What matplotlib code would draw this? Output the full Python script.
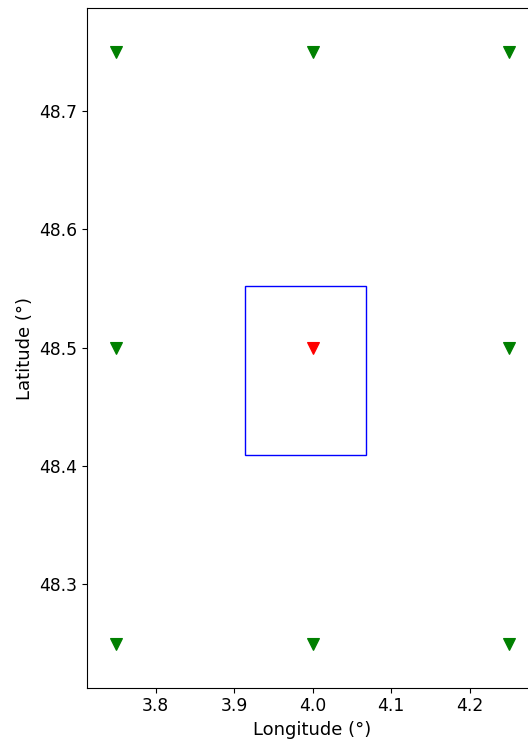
import matplotlib
matplotlib.use("Agg")
import matplotlib.pyplot as plt
from matplotlib.patches import Rectangle

grid_lon = [3.75, 4.0, 4.25, 3.75, 4.25, 3.75, 4.0, 4.25]
grid_lat = [48.75, 48.75, 48.75, 48.5, 48.5, 48.25, 48.25, 48.25]
center_lon = [4.0]
center_lat = [48.5]
box_lon = [3.914, 4.068]
box_lat = [48.409, 48.552]
xticks = [3.8, 3.9, 4.0, 4.1, 4.2]
yticks = [48.3, 48.4, 48.5, 48.6, 48.7]

W, H = 528, 740
fig = plt.figure(figsize=(W/100, H/100), dpi=100)
left, right, top, bottom = 87.3, 537.9, 8.3, 687.7
ax = fig.add_axes([left/W, 1-bottom/H, (right-left)/W, (bottom-top)/H])

ax.plot(grid_lon, grid_lat, 'v', color='green', markersize=9, markeredgewidth=0.8, linestyle='none')
ax.plot(center_lon, center_lat, 'v', color='red', markersize=9, markeredgewidth=0.8, linestyle='none')
ax.add_patch(Rectangle((box_lon[0], box_lat[0]), box_lon[1]-box_lon[0], box_lat[1]-box_lat[0],
                       fill=False, edgecolor='blue', linewidth=1))

ax.set_xlim(3.7129, 4.2871)
ax.set_ylim(48.2127, 48.7865)
ax.set_xticks(xticks)
ax.set_yticks(yticks)
ax.set_xticklabels([f"{v:.1f}" for v in xticks])
ax.set_yticklabels([f"{v:.1f}" for v in yticks])
ax.tick_params(labelsize=12.3)
ax.set_xlabel("Longitude (°)", fontsize=13)
ax.set_ylabel("Latitude (°)", fontsize=13)

fig.savefig("out.png", dpi=100)
